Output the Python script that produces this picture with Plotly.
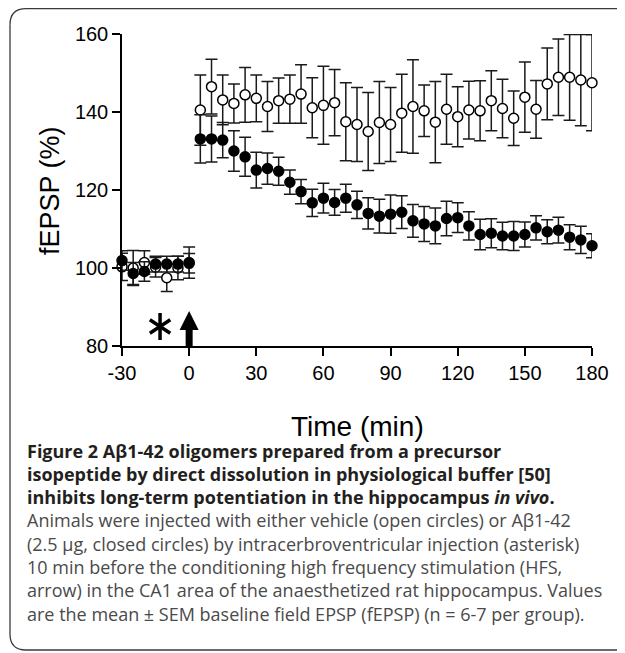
import plotly.graph_objects as go

# ---------------- data ----------------
time_min = [-30, -25, -20, -15, -10, -5, 0,
            5, 10, 15, 20, 25, 30, 35, 40, 45, 50, 55, 60, 65, 70, 75, 80, 85, 90,
            95, 100, 105, 110, 115, 120, 125, 130, 135, 140, 145, 150, 155, 160,
            165, 170, 175, 180]

vehicle_mean = [100.3, 100.0, 101.4, 100.2, 97.5, 100.0, 101.4,
                140.5, 146.5, 143.1, 142.2, 144.4, 143.5, 141.4, 142.9, 143.3, 144.6,
                141.1, 141.7, 142.4, 137.5, 136.8, 135.0, 137.3, 136.8, 139.7, 141.4,
                140.3, 137.4, 140.7, 138.8, 140.5, 140.3, 142.9, 140.9, 138.4, 143.8,
                140.7, 147.2, 148.9, 148.9, 148.2, 147.5]
vehicle_sem = [3.5, 4.5, 3.0, 2.5, 3.5, 3.0, 4.0,
               9.0, 7.0, 6.4, 5.0, 7.0, 6.0, 6.4, 5.8, 6.2, 7.5,
               7.7, 10.0, 8.5, 10.0, 9.5, 10.0, 10.5, 9.5, 10.0, 12.0,
               6.6, 10.4, 9.0, 7.7, 7.4, 7.7, 7.7, 7.5, 7.0, 9.0,
               7.4, 9.2, 9.8, 11.0, 11.7, 12.3]

abeta_mean = [101.9, 98.6, 99.1, 101.0, 101.0, 101.0, 101.2,
              133.1, 133.1, 132.8, 130.0, 128.5, 125.1, 125.5, 124.8, 122.0, 119.6,
              116.7, 117.9, 116.8, 117.9, 116.2, 114.0, 113.3, 113.8, 114.3, 112.1,
              111.3, 110.8, 112.7, 112.9, 110.8, 108.6, 108.9, 108.2, 108.2, 108.6,
              110.3, 109.3, 109.7, 107.9, 107.2, 105.7]
abeta_sem = [2.5, 2.8, 2.5, 2.0, 2.0, 2.0, 2.5,
             6.2, 5.9, 4.5, 5.2, 5.0, 4.6, 4.0, 3.6, 3.1, 3.1,
             3.5, 3.8, 3.3, 3.6, 3.5, 4.0, 4.3, 4.9, 4.2, 4.2,
             4.5, 4.6, 4.4, 3.8, 3.6, 3.9, 3.7, 3.5, 3.7, 3.2,
             3.1, 3.1, 3.3, 3.2, 3.5, 3.1]

x_ticks = [-30, 0, 30, 60, 90, 120, 150, 180]
y_ticks = [80, 100, 120, 140, 160]

injection_time = [-13]     # asterisk
injection_level = [85]
hfs_time = [0]             # arrow
hfs_tip = [89.0]
hfs_base = [80.0, 84.5]

caption_lines = [
    "<b>Figure 2</b> <b>Aβ1-42 oligomers prepared from a precursor</b>",
    "<b>isopeptide by direct dissolution in physiological buffer [50]</b>",
    "<b>inhibits long-term potentiation in the hippocampus <i>in vivo</i>.</b>",
    "Animals were injected with either vehicle (open circles) or Aβ1-42",
    "(2.5 µg, closed circles) by intracerbroventricular injection (asterisk)",
    "10 min before the conditioning high frequency stimulation (HFS,",
    "arrow) in the CA1 area of the anaesthetized rat hippocampus. Values",
    "are the mean ± SEM baseline field EPSP (fEPSP) (n = 6-7 per group).",
]

# ---------------- layout geometry (page pixels; page body has 8px margin) ----------------
OFF = 8
W, H = 625, 653 - OFF
PX0, PX1, PY0, PY1 = 122, 592, 34, 346          # plot area on the page
L, T = PX0 - OFF, PY0 - OFF
R, B = W - (PX1 - OFF), H - (PY1 - OFF)
PW, PH = PX1 - PX0, PY1 - PY0


def px(xp):
    return (xp - PX0) / PW


def py(yp):
    return (PY1 - yp) / PH


fig = go.Figure()

fig.add_trace(go.Scatter(
    x=time_min, y=vehicle_mean, mode="markers",
    marker=dict(symbol="circle", size=10, color="white",
                line=dict(color="black", width=1.5)),
    error_y=dict(type="data", array=vehicle_sem, visible=True,
                 color="#1a1a1a", thickness=1.5, width=6),
    showlegend=False, cliponaxis=False))

fig.add_trace(go.Scatter(
    x=time_min, y=abeta_mean, mode="markers",
    marker=dict(symbol="circle", size=10, color="black",
                line=dict(color="black", width=1.5)),
    error_y=dict(type="data", array=abeta_sem, visible=True,
                 color="#1a1a1a", thickness=1.5, width=6),
    showlegend=False, cliponaxis=False))

# asterisk (6 arms)
for sym in ["y-up-open", "y-down-open"]:
    fig.add_trace(go.Scatter(
        x=injection_time, y=injection_level, mode="markers",
        marker=dict(symbol=sym, size=17, color="black",
                    line=dict(color="black", width=3.5)),
        showlegend=False, hoverinfo="skip"))

# arrow
fig.add_trace(go.Scatter(
    x=hfs_time * 2, y=hfs_base, mode="lines",
    line=dict(color="black", width=7), showlegend=False, hoverinfo="skip"))
fig.add_trace(go.Scatter(
    x=hfs_time, y=hfs_tip, mode="markers",
    marker=dict(symbol="arrow-up", size=19, color="black",
                line=dict(color="black", width=0)),
    showlegend=False, hoverinfo="skip"))

axis_common = dict(showline=True, linecolor="black", linewidth=1.5,
                   ticks="outside", ticklen=8, tickwidth=1.5, tickcolor="black",
                   showgrid=False, zeroline=False,
                   tickfont=dict(family="Liberation Sans, Arial", size=20, color="black"))

fig.update_xaxes(range=[-30, 180], tickvals=x_ticks,
                 ticktext=[str(v) for v in x_ticks], **axis_common)
fig.update_yaxes(range=[80, 160], tickvals=y_ticks,
                 ticktext=[str(v) for v in y_ticks], **axis_common)

annotations = [
    dict(text="fEPSP (%)", x=px(50), y=py(191), xref="paper", yref="paper",
         textangle=-90, showarrow=False, xanchor="center", yanchor="middle",
         font=dict(family="Liberation Sans, Arial", size=27, color="black")),
    dict(text="Time (min)", x=px(357), y=py(426), xref="paper", yref="paper",
         showarrow=False, xanchor="center", yanchor="middle",
         font=dict(family="Liberation Sans, Arial", size=28, color="black")),
]

base0 = 456.5
for i, line in enumerate(caption_lines):
    col = "#231f20" if i < 3 else "#4a4a4a"
    annotations.append(dict(
        text=line, x=px(25), y=py(base0 + i * 23.3 - 6), xref="paper", yref="paper",
        showarrow=False, xanchor="left", yanchor="middle",
        font=dict(family="Open Sans", size=18, color=col)))

# rounded frame (page coordinates), open on the right side
rad = 16
x0, y0, x1, y1 = 10, 8.7, 640, 650
frame_style = dict(xref="paper", yref="paper", line=dict(color="#3a3a3a", width=1.3))
shapes = [
    dict(type="line", x0=px(x0 + rad), y0=py(y0), x1=px(x1), y1=py(y0), **frame_style),
    dict(type="line", x0=px(x0), y0=py(y0 + rad), x1=px(x0), y1=py(y1 - rad), **frame_style),
    dict(type="line", x0=px(x0 + rad), y0=py(y1), x1=px(x1), y1=py(y1), **frame_style),
    dict(type="path", path=(f"M {px(x0 + rad)},{py(y0)} Q {px(x0)},{py(y0)} "
                            f"{px(x0)},{py(y0 + rad)}"), **frame_style),
    dict(type="path", path=(f"M {px(x0)},{py(y1 - rad)} Q {px(x0)},{py(y1)} "
                            f"{px(x0 + rad)},{py(y1)}"), **frame_style),
]

fig.update_layout(
    width=W, height=H,
    margin=dict(l=L, r=R, t=T, b=B, autoexpand=False),
    paper_bgcolor="white", plot_bgcolor="white",
    annotations=annotations,
    shapes=shapes,
)

fig.write_html("out.html")
